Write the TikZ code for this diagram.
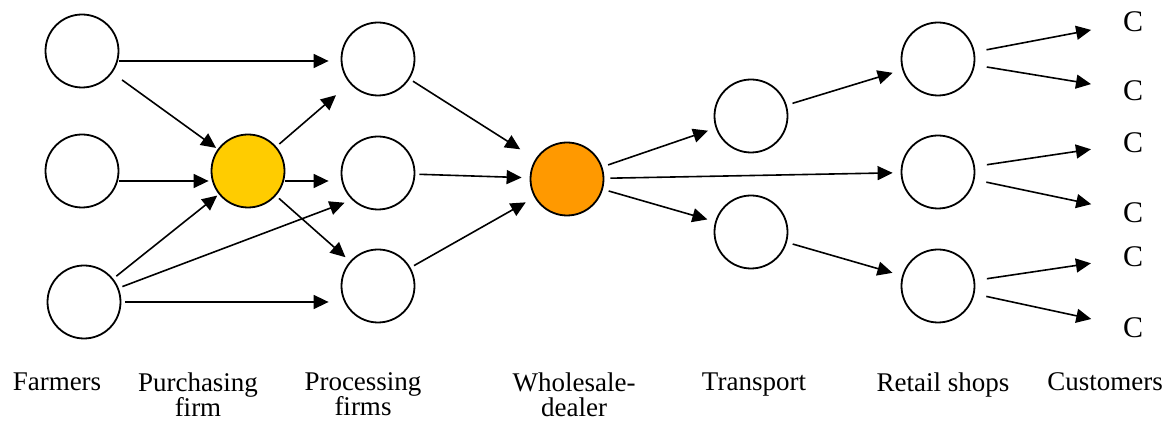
\documentclass[tikz,border=0pt]{standalone}
\usepackage{fontspec}
\setmainfont{Liberation Serif}
\usetikzlibrary{arrows.meta}

\definecolor{purchase}{HTML}{FFCC00}
\definecolor{wholesale}{HTML}{FF9900}

\begin{document}
\begin{tikzpicture}[x=0.5pt, y=-0.5pt,
    stage/.style={circle, draw=black, line width=0.9pt, minimum size=36.5pt, inner sep=0pt},
    flow/.style={-{Triangle[length=7.5pt,width=7pt]}, line width=0.8pt, shorten >=4pt, shorten <=2pt},
    lab/.style={anchor=north, inner sep=0pt, align=center, font=\fontsize{13.5}{12.5}\selectfont},
    cust/.style={inner sep=1pt, font=\fontsize{15}{18}\selectfont}]

    % keep the page at the size of the reference
    \useasboundingbox (0,0) rectangle (1173,421);

    % --- Farmers ---
    \node[stage] (f1) at (82,51) {};
    \node[stage] (f2) at (82,171) {};
    \node[stage] (f3) at (84,302) {};

    % --- Purchasing firm ---
    \node[stage, fill=purchase] (pur) at (248,171) {};

    % --- Processing firms ---
    \node[stage] (p1) at (378,59) {};
    \node[stage] (p2) at (378,173) {};
    \node[stage] (p3) at (378,286) {};

    % --- Wholesale-dealer ---
    \node[stage, fill=wholesale] (whole) at (567,179) {};

    % --- Transport ---
    \node[stage] (t1) at (751,116) {};
    \node[stage] (t2) at (751,232) {};

    % --- Retail shops ---
    \node[stage] (r1) at (938,59) {};
    \node[stage] (r2) at (938,172) {};
    \node[stage] (r3) at (938,286) {};

    % --- Customers ---
    \node[cust] (c1) at (1133,22) {C};
    \node[cust] (c2) at (1133,91) {C};
    \node[cust] (c3) at (1133,143) {C};
    \node[cust] (c4) at (1133,213) {C};
    \node[cust] (c5) at (1133,257) {C};
    \node[cust] (c6) at (1133,328) {C};

    % farmers to purchasing firm and processing firms
    \draw[flow, shorten >=6pt, shorten <=0pt] ([yshift=-5pt]f1.east) -- ([yshift=-5pt]f1.east -| p1.west);
    \draw[flow, shorten <=6pt, shorten >=1pt] (f1) -- (pur);
    \draw[flow, shorten <=0pt, shorten >=1pt] ([yshift=-5pt]f2.east) -- ([yshift=-5pt]f2.east -| pur.west);
    \draw[flow, shorten >=1pt] (f3) -- (pur);
    \draw[flow] (f3.22) -- (p2.226);
    \draw[flow, shorten >=6pt] (f3) -- (f3 -| p3.west);

    % purchasing firm to processing firms
    \draw[flow, shorten >=9pt] (pur) -- (p1);
    \draw[flow, shorten >=6pt, shorten <=0pt] ([yshift=-5pt]pur.east) -- ([yshift=-5pt]pur.east -| p2.west);
    \draw[flow, shorten >=3pt] (pur) -- (p3);

    % processing firms to wholesale-dealer
    \draw[flow, shorten >=9pt] (p1) -- (whole);
    \draw[flow] (p2) -- (whole);
    \draw[flow, shorten >=5pt] (p3) -- (whole);

    % wholesale-dealer onwards
    \draw[flow, shorten <=3pt] (whole) -- (t1);
    \draw[flow, shorten <=3pt] (whole) -- (r2);
    \draw[flow, shorten <=3pt] (whole) -- (t2);
    \draw[flow, shorten <=3pt, shorten >=5pt] (t1) -- (r1);
    \draw[flow, shorten <=3pt, shorten >=5pt] (t2) -- (r3);

    % retail shops to customers
    \foreach \r/\c in {r1/c1, r1/c2, r2/c3, r2/c4, r3/c5, r3/c6} {
        \draw[flow, shorten <=6pt, shorten >=15pt] (\r) -- (\c);
    }

    % stage names
    \node[lab] (lfarm) at (57,372) {Farmers};
    \node[lab] (lpur) at (198,372) {Purchasing\\firm};
    \node[lab] (lproc) at (363,372) {Processing\\firms};
    \node[lab] (lwhole) at (574,372) {Wholesale-\\dealer};
    \node[lab] (ltrans) at (754,372) {Transport};
    \node[lab] (lretail) at (943,372) {Retail shops};
    \node[lab] (lcust) at (1105,372) {Customers};

\end{tikzpicture}
\end{document}
